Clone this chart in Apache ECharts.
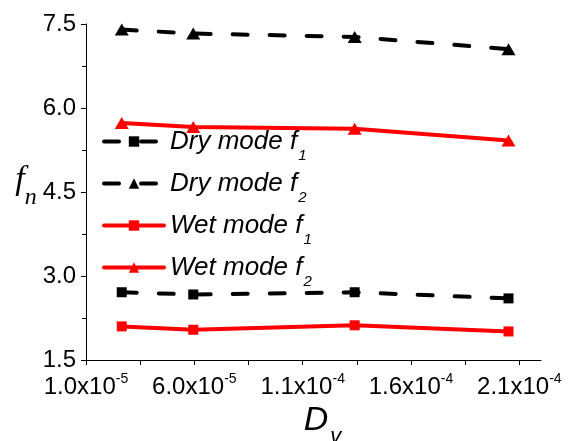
<!DOCTYPE html>
<html>
<head>
<meta charset="utf-8">
<script src="https://cdn.jsdelivr.net/npm/echarts@6/dist/echarts.min.js"></script>
<style>
  html, body { margin: 0; padding: 0; background: #fff; }
  #main { width: 569px; height: 441px; }
</style>
</head>
<body>
<div id="main"></div>
<script>
// D_v values (x) and natural frequencies
const dv = [2.65e-5, 5.95e-5, 1.34e-4, 2.05e-4];
const dryF1 = [2.71, 2.67, 2.71, 2.60];
const dryF2 = [7.40, 7.33, 7.27, 7.05];
const wetF1 = [2.10, 2.04, 2.12, 2.01];
const wetF2 = [5.73, 5.66, 5.63, 5.42];

const xLabels = [1e-5, 6e-5, 1.1e-4, 1.6e-4, 2.1e-4];
const xTicks = [1e-5, 3.5e-5, 6e-5, 8.5e-5, 1.1e-4, 1.35e-4, 1.6e-4, 1.85e-4, 2.1e-4];
const yTicks = [1.5, 3.0, 4.5, 6.0, 7.5];

const font = 'Liberation Sans, Arial, sans-serif';
const serif = 'Liberation Serif, Times New Roman, serif';
const myChart = echarts.init(document.getElementById('main'));

function makeSeries(name, ys, color, dashed, symbol, size) {
  return {
    name: name,
    type: 'line',
    data: dv.map((x, i) => [x, ys[i]]),
    symbol: symbol,
    symbolSize: size,
    lineStyle: { color: color, width: 4, type: dashed ? [15, 22] : 'solid', cap: 'round' },
    itemStyle: { color: color },
  };
}

myChart.setOption({
  animation: false,
  grid: { left: 86, right: 28, top: 24, bottom: 81, outerBoundsMode: 'none' },
  legend: {
    left: 97,
    top: 115,
    orient: 'vertical',
    itemWidth: 60,
    itemHeight: 13,
    itemGap: -1,
    lineStyle: { width: 4 },
    formatter: (name) => {
      const base = name.slice(0, -1);
      const sub = name.slice(-1);
      return '{a|' + base + '}{s|' + sub + '}';
    },
    textStyle: {
      color: '#000',
      rich: {
        a: { fontFamily: font, fontStyle: 'italic', fontSize: 26, lineHeight: 26, color: '#000', padding: [0, 0, 0, 1] },
        s: { fontFamily: font, fontStyle: 'italic', fontSize: 15, lineHeight: 15, color: '#000', padding: [28, 0, 0, 1] },
      },
    },
    data: ['Dry mode f1', 'Dry mode f2', 'Wet mode f1', 'Wet mode f2'],
  },
  xAxis: {
    type: 'value',
    min: 1e-5,
    max: 2.2e-4,
    splitLine: { show: false },
    axisLine: { lineStyle: { color: '#000', width: 1 } },
    axisTick: { show: true, length: 5, customValues: xTicks, lineStyle: { color: '#000' } },
    axisLabel: {
      customValues: xLabels,
      margin: 12,
      formatter: (v) => {
        const parts = v.toExponential(1).split('e');
        return '{m|' + parts[0] + 'x10}{e|' + (+parts[1]) + '}';
      },
      rich: {
        m: { fontFamily: font, fontSize: 24, lineHeight: 30, color: '#000' },
        e: { fontFamily: font, fontSize: 14, lineHeight: 14, color: '#000', verticalAlign: 'top' },
      },
    },
    name: '{d|D}{v|v}',
    nameLocation: 'middle',
    nameGap: 34,
    nameTextStyle: {
      rich: {
        d: { fontFamily: font, fontStyle: 'italic', fontSize: 34, color: '#000', padding: [0, 0, 0, 18] },
        v: { fontFamily: font, fontStyle: 'italic', fontSize: 22, color: '#000', padding: [32, 0, 0, 2] },
      },
    },
  },
  yAxis: {
    type: 'value',
    min: yTicks[0],
    max: yTicks[yTicks.length - 1],
    interval: 1.5,
    splitLine: { show: false },
    axisLine: { show: true, lineStyle: { color: '#000', width: 1 } },
    axisTick: { show: true, length: 5, lineStyle: { color: '#000' } },
    minorTick: { show: true, splitNumber: 2, length: 4, lineStyle: { color: '#000' } },
    axisLabel: {
      margin: 10,
      fontFamily: font,
      fontSize: 24,
      color: '#000',
      formatter: (v) => v.toFixed(1),
    },
    name: '{f|f}{n|n}',
    nameLocation: 'middle',
    nameRotate: 0,
    nameGap: 40,
    nameTextStyle: {
      padding: [0, 0, 16, 0],
      rich: {
        f: { fontFamily: serif, fontStyle: 'italic', fontSize: 34, lineHeight: 34, color: '#000', padding: [0, 0, 8, 0] },
        n: { fontFamily: serif, fontStyle: 'italic', fontSize: 24, lineHeight: 24, color: '#000', padding: [28, 0, 0, 0] },
      },
    },
  },
  series: [
    makeSeries('Dry mode f1', dryF1, '#000000', true, 'rect', 10),
    makeSeries('Dry mode f2', dryF2, '#000000', true, 'triangle', [14, 12]),
    makeSeries('Wet mode f1', wetF1, '#ff0000', false, 'rect', 10),
    makeSeries('Wet mode f2', wetF2, '#ff0000', false, 'triangle', [14, 12]),
  ],
});
</script>
</body>
</html>
